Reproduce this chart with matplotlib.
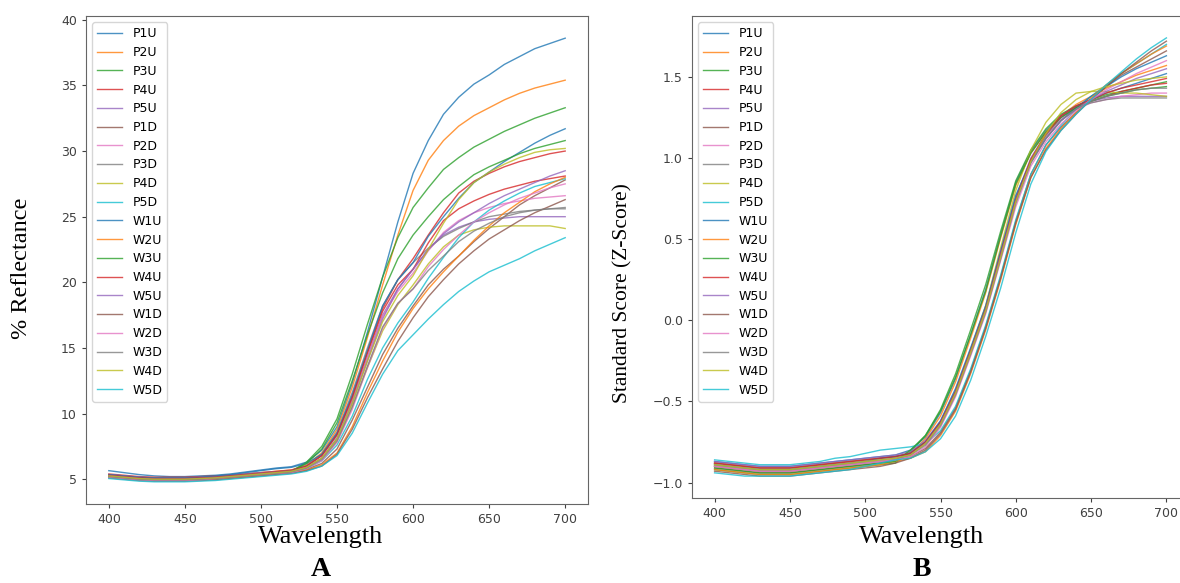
import numpy as np
import matplotlib.pyplot as plt

# wavelengths sampled every 10 nm
wavelength = list(range(400, 701, 10))

labels = ["P1U", "P2U", "P3U", "P4U", "P5U", "P1D", "P2D", "P3D", "P4D", "P5D",
          "W1U", "W2U", "W3U", "W4U", "W5U", "W1D", "W2D", "W3D", "W4D", "W5D"]

# panel A: % reflectance, 400..700 nm
P1U = [5.65, 5.5, 5.35, 5.25, 5.2, 5.2, 5.25, 5.3, 5.4, 5.55, 5.7, 5.85, 5.95, 6.3, 7.2, 9.0, 12.3, 16.2, 20.4, 24.6, 28.3, 30.8, 32.8, 34.1, 35.1, 35.8, 36.6, 37.2, 37.8, 38.2, 38.6]
P2U = [5.3, 5.2, 5.1, 5.05, 5.05, 5.05, 5.1, 5.2, 5.3, 5.4, 5.5, 5.6, 5.7, 6.1, 7.0, 8.8, 12.0, 15.8, 19.8, 23.6, 27.0, 29.3, 30.8, 31.9, 32.7, 33.3, 33.9, 34.4, 34.8, 35.1, 35.4]
P3U = [5.25, 5.15, 5.05, 5.0, 5.0, 5.0, 5.05, 5.1, 5.2, 5.3, 5.4, 5.5, 5.6, 6.3, 7.5, 9.6, 13.0, 16.8, 20.4, 23.4, 25.7, 27.2, 28.6, 29.5, 30.3, 30.9, 31.5, 32.0, 32.5, 32.9, 33.3]
P4U = [5.4, 5.3, 5.2, 5.15, 5.15, 5.15, 5.2, 5.25, 5.3, 5.4, 5.5, 5.6, 5.7, 6.0, 6.8, 8.4, 11.3, 14.7, 18.0, 20.2, 21.8, 23.6, 25.3, 26.8, 27.7, 28.3, 28.8, 29.2, 29.5, 29.8, 30.0]
P5U = [5.35, 5.25, 5.15, 5.1, 5.1, 5.1, 5.15, 5.2, 5.3, 5.4, 5.5, 5.55, 5.65, 6.0, 6.8, 8.3, 11.0, 14.3, 17.5, 19.5, 21.0, 22.5, 23.6, 24.2, 24.6, 24.8, 24.9, 25.0, 25.0, 25.0, 25.0]
P1D = [5.2, 5.1, 5.0, 4.95, 4.95, 4.95, 5.0, 5.05, 5.15, 5.25, 5.35, 5.45, 5.5, 5.75, 6.2, 7.3, 9.5, 12.0, 14.5, 16.5, 18.2, 19.8, 21.0, 22.0, 23.1, 24.1, 25.0, 25.9, 26.6, 27.2, 27.8]
P2D = [5.3, 5.2, 5.1, 5.05, 5.05, 5.05, 5.1, 5.15, 5.2, 5.3, 5.35, 5.45, 5.55, 5.85, 6.6, 8.1, 10.8, 14.2, 17.4, 19.3, 20.7, 22.4, 23.8, 24.7, 25.3, 25.7, 26.0, 26.2, 26.4, 26.5, 26.6]
P3D = [5.3, 5.2, 5.1, 5.05, 5.05, 5.05, 5.1, 5.15, 5.25, 5.35, 5.45, 5.55, 5.65, 6.0, 6.9, 8.6, 11.6, 15.0, 18.2, 20.2, 21.5, 22.6, 23.5, 24.1, 24.6, 25.0, 25.2, 25.4, 25.5, 25.6, 25.6]
P4D = [5.25, 5.15, 5.05, 5.0, 5.0, 5.0, 5.05, 5.1, 5.2, 5.3, 5.4, 5.5, 5.6, 5.9, 6.6, 8.0, 10.5, 13.5, 16.3, 18.3, 19.8, 21.4, 22.7, 23.6, 24.0, 24.2, 24.3, 24.3, 24.3, 24.3, 24.1]
P5D = [5.2, 5.1, 5.0, 4.95, 4.95, 4.95, 5.0, 5.05, 5.15, 5.25, 5.35, 5.45, 5.55, 5.8, 6.4, 7.6, 9.8, 12.6, 15.0, 16.9, 18.5, 20.3, 21.9, 23.4, 24.6, 25.5, 26.2, 26.8, 27.3, 27.6, 27.9]
W1U = [5.35, 5.25, 5.15, 5.1, 5.1, 5.1, 5.15, 5.25, 5.35, 5.5, 5.65, 5.8, 5.9, 6.2, 6.9, 8.5, 11.4, 14.8, 18.2, 20.2, 21.5, 23.5, 25.0, 26.4, 27.6, 28.4, 29.2, 29.9, 30.6, 31.2, 31.7]
W2U = [5.15, 5.05, 4.95, 4.9, 4.9, 4.9, 4.95, 5.0, 5.1, 5.2, 5.3, 5.4, 5.5, 5.7, 6.1, 7.0, 9.0, 11.6, 14.0, 16.2, 18.0, 19.5, 20.8, 22.0, 23.2, 24.3, 25.3, 26.1, 26.9, 27.5, 28.0]
W3U = [5.2, 5.1, 5.0, 4.95, 4.95, 4.95, 5.0, 5.1, 5.2, 5.3, 5.4, 5.5, 5.6, 6.2, 7.3, 9.3, 12.5, 16.0, 19.2, 21.8, 23.6, 25.0, 26.3, 27.3, 28.2, 28.8, 29.3, 29.8, 30.2, 30.5, 30.8]
W4U = [5.3, 5.2, 5.1, 5.05, 5.05, 5.05, 5.1, 5.15, 5.25, 5.35, 5.45, 5.55, 5.65, 6.0, 6.8, 8.4, 11.2, 14.6, 17.8, 19.8, 21.0, 23.0, 24.7, 25.6, 26.2, 26.7, 27.1, 27.4, 27.7, 27.9, 28.1]
W5U = [5.25, 5.15, 5.05, 5.0, 5.0, 5.0, 5.05, 5.1, 5.2, 5.3, 5.4, 5.5, 5.6, 5.9, 6.6, 8.1, 10.8, 14.0, 17.2, 19.5, 21.0, 22.5, 23.7, 24.6, 25.3, 26.0, 26.6, 27.1, 27.6, 28.1, 28.5]
W1D = [5.1, 5.0, 4.9, 4.85, 4.85, 4.85, 4.9, 4.95, 5.05, 5.15, 5.25, 5.35, 5.45, 5.65, 6.0, 6.9, 8.8, 11.2, 13.4, 15.5, 17.3, 18.9, 20.2, 21.4, 22.4, 23.3, 24.0, 24.7, 25.3, 25.8, 26.3]
W2D = [5.15, 5.05, 4.95, 4.9, 4.9, 4.9, 4.95, 5.05, 5.15, 5.25, 5.35, 5.45, 5.5, 5.8, 6.4, 7.8, 10.3, 13.5, 16.5, 18.4, 19.5, 21.2, 22.5, 23.6, 24.6, 25.3, 25.9, 26.4, 26.8, 27.2, 27.5]
W3D = [5.2, 5.1, 5.0, 4.95, 4.95, 4.95, 5.0, 5.05, 5.15, 5.25, 5.35, 5.45, 5.55, 5.85, 6.5, 7.9, 10.5, 13.6, 16.6, 18.4, 19.5, 20.9, 22.0, 23.1, 23.9, 24.5, 25.0, 25.3, 25.5, 25.6, 25.7]
W4D = [5.25, 5.15, 5.05, 5.0, 5.0, 5.0, 5.05, 5.1, 5.2, 5.3, 5.4, 5.5, 5.6, 5.9, 6.6, 8.1, 10.8, 14.0, 17.0, 19.0, 20.5, 22.5, 24.5, 26.3, 27.6, 28.4, 29.0, 29.5, 29.9, 30.1, 30.2]
W5D = [5.05, 4.95, 4.85, 4.8, 4.8, 4.8, 4.85, 4.9, 5.0, 5.1, 5.2, 5.3, 5.4, 5.6, 6.0, 6.8, 8.5, 10.8, 13.0, 14.8, 16.0, 17.2, 18.3, 19.3, 20.1, 20.8, 21.3, 21.8, 22.4, 22.9, 23.4]

reflectance = [P1U, P2U, P3U, P4U, P5U, P1D, P2D, P3D, P4D, P5D,
               W1U, W2U, W3U, W4U, W5U, W1D, W2D, W3D, W4D, W5D]

# panel B: standard score (z-score), 400..700 nm
zP1U = [-0.87, -0.88, -0.89, -0.90, -0.90, -0.90, -0.89, -0.88, -0.87, -0.86, -0.85, -0.84, -0.83, -0.80, -0.72, -0.57, -0.36, -0.09, 0.19, 0.53, 0.85, 1.04, 1.17, 1.26, 1.32, 1.36, 1.40, 1.43, 1.46, 1.49, 1.52]
zP2U = [-0.90, -0.91, -0.92, -0.93, -0.93, -0.93, -0.92, -0.91, -0.90, -0.89, -0.88, -0.87, -0.86, -0.82, -0.73, -0.59, -0.38, -0.11, 0.17, 0.51, 0.83, 1.03, 1.16, 1.26, 1.33, 1.38, 1.43, 1.47, 1.51, 1.54, 1.57]
zP3U = [-0.92, -0.93, -0.94, -0.95, -0.95, -0.95, -0.94, -0.93, -0.92, -0.91, -0.90, -0.89, -0.88, -0.81, -0.71, -0.55, -0.33, -0.06, 0.22, 0.55, 0.86, 1.05, 1.18, 1.27, 1.32, 1.36, 1.39, 1.41, 1.43, 1.45, 1.47]
zP4U = [-0.88, -0.89, -0.90, -0.91, -0.91, -0.91, -0.90, -0.89, -0.88, -0.87, -0.86, -0.85, -0.84, -0.82, -0.75, -0.63, -0.44, -0.19, 0.07, 0.41, 0.75, 0.99, 1.14, 1.25, 1.31, 1.35, 1.38, 1.41, 1.43, 1.45, 1.46]
zP5U = [-0.87, -0.88, -0.89, -0.90, -0.90, -0.90, -0.89, -0.88, -0.87, -0.86, -0.85, -0.84, -0.83, -0.81, -0.74, -0.62, -0.43, -0.18, 0.08, 0.42, 0.76, 1.00, 1.15, 1.26, 1.32, 1.35, 1.37, 1.38, 1.38, 1.38, 1.38]
zP1D = [-0.91, -0.92, -0.93, -0.94, -0.94, -0.94, -0.93, -0.92, -0.91, -0.90, -0.89, -0.88, -0.86, -0.84, -0.79, -0.69, -0.54, -0.31, -0.04, 0.27, 0.61, 0.90, 1.08, 1.19, 1.28, 1.36, 1.44, 1.51, 1.56, 1.61, 1.66]
zP2D = [-0.89, -0.90, -0.91, -0.92, -0.92, -0.92, -0.91, -0.90, -0.89, -0.88, -0.87, -0.86, -0.85, -0.83, -0.76, -0.64, -0.45, -0.20, 0.06, 0.40, 0.74, 0.98, 1.13, 1.24, 1.30, 1.34, 1.36, 1.38, 1.39, 1.40, 1.40]
zP3D = [-0.88, -0.89, -0.90, -0.91, -0.91, -0.91, -0.90, -0.89, -0.88, -0.87, -0.86, -0.85, -0.84, -0.82, -0.75, -0.63, -0.44, -0.19, 0.07, 0.41, 0.75, 0.99, 1.14, 1.25, 1.31, 1.34, 1.36, 1.37, 1.37, 1.37, 1.37]
zP4D = [-0.90, -0.91, -0.92, -0.93, -0.93, -0.93, -0.92, -0.91, -0.90, -0.89, -0.88, -0.87, -0.86, -0.83, -0.76, -0.64, -0.44, -0.18, 0.09, 0.45, 0.80, 1.05, 1.22, 1.33, 1.40, 1.41, 1.41, 1.40, 1.40, 1.39, 1.38]
zP5D = [-0.86, -0.87, -0.88, -0.89, -0.89, -0.89, -0.88, -0.87, -0.85, -0.84, -0.82, -0.80, -0.79, -0.78, -0.76, -0.68, -0.53, -0.30, -0.03, 0.28, 0.62, 0.90, 1.08, 1.20, 1.30, 1.38, 1.45, 1.52, 1.58, 1.64, 1.70]
zW1U = [-0.89, -0.90, -0.91, -0.92, -0.92, -0.92, -0.91, -0.90, -0.89, -0.88, -0.87, -0.85, -0.84, -0.82, -0.75, -0.62, -0.42, -0.17, 0.09, 0.43, 0.77, 0.98, 1.12, 1.23, 1.31, 1.38, 1.44, 1.50, 1.55, 1.59, 1.63]
zW2U = [-0.92, -0.93, -0.94, -0.95, -0.95, -0.95, -0.94, -0.93, -0.92, -0.91, -0.90, -0.89, -0.87, -0.85, -0.81, -0.71, -0.56, -0.33, -0.06, 0.25, 0.59, 0.88, 1.06, 1.18, 1.28, 1.37, 1.45, 1.52, 1.58, 1.64, 1.69]
zW3U = [-0.91, -0.92, -0.93, -0.94, -0.94, -0.94, -0.93, -0.92, -0.91, -0.90, -0.89, -0.88, -0.87, -0.80, -0.71, -0.56, -0.35, -0.09, 0.18, 0.52, 0.84, 1.03, 1.16, 1.25, 1.31, 1.35, 1.38, 1.40, 1.42, 1.43, 1.44]
zW4U = [-0.88, -0.89, -0.90, -0.91, -0.91, -0.91, -0.90, -0.89, -0.88, -0.87, -0.86, -0.85, -0.84, -0.82, -0.75, -0.63, -0.44, -0.19, 0.07, 0.41, 0.74, 0.99, 1.15, 1.26, 1.32, 1.36, 1.40, 1.43, 1.45, 1.47, 1.49]
zW5U = [-0.90, -0.91, -0.92, -0.93, -0.93, -0.93, -0.92, -0.91, -0.90, -0.89, -0.88, -0.87, -0.86, -0.83, -0.76, -0.64, -0.45, -0.20, 0.06, 0.40, 0.73, 0.97, 1.12, 1.23, 1.30, 1.36, 1.41, 1.45, 1.49, 1.52, 1.55]
zW1D = [-0.93, -0.94, -0.95, -0.96, -0.96, -0.96, -0.95, -0.94, -0.93, -0.92, -0.91, -0.90, -0.88, -0.85, -0.80, -0.70, -0.55, -0.32, -0.05, 0.26, 0.60, 0.88, 1.05, 1.17, 1.27, 1.36, 1.44, 1.52, 1.59, 1.66, 1.72]
zW2D = [-0.90, -0.91, -0.92, -0.93, -0.93, -0.93, -0.92, -0.91, -0.90, -0.89, -0.88, -0.87, -0.86, -0.84, -0.78, -0.66, -0.47, -0.22, 0.04, 0.37, 0.70, 0.95, 1.10, 1.21, 1.29, 1.36, 1.42, 1.47, 1.52, 1.56, 1.60]
zW3D = [-0.89, -0.90, -0.91, -0.92, -0.92, -0.92, -0.91, -0.90, -0.89, -0.88, -0.87, -0.86, -0.85, -0.83, -0.77, -0.65, -0.46, -0.21, 0.05, 0.38, 0.72, 0.97, 1.12, 1.23, 1.30, 1.35, 1.38, 1.40, 1.42, 1.43, 1.43]
zW4D = [-0.89, -0.90, -0.91, -0.92, -0.92, -0.92, -0.91, -0.90, -0.89, -0.88, -0.87, -0.86, -0.85, -0.83, -0.76, -0.64, -0.45, -0.20, 0.06, 0.39, 0.73, 0.98, 1.15, 1.28, 1.36, 1.41, 1.44, 1.46, 1.48, 1.49, 1.50]
zW5D = [-0.94, -0.95, -0.96, -0.96, -0.96, -0.96, -0.95, -0.94, -0.93, -0.92, -0.90, -0.88, -0.86, -0.85, -0.81, -0.73, -0.59, -0.37, -0.10, 0.20, 0.54, 0.84, 1.04, 1.17, 1.27, 1.36, 1.45, 1.53, 1.61, 1.68, 1.74]

zscore = [zP1U, zP2U, zP3U, zP4U, zP5U, zP1D, zP2D, zP3D, zP4D, zP5D,
          zW1U, zW2U, zW3U, zW4U, zW5U, zW1D, zW2D, zW3D, zW4D, zW5D]

W, H = 1180, 583
fig = plt.figure(figsize=(W / 100, H / 100), dpi=100)

ax1 = fig.add_axes([86 / W, 1 - 504 / H, (588 - 86) / W, (504 - 16) / H])
# right panel runs just past the image edge, as in the cropped original
ax2 = fig.add_axes([692 / W, 1 - 498 / H, (1189 - 692) / W, (498 - 16) / H])

for ax, data in [(ax1, reflectance), (ax2, zscore)]:
    for lab, ys in zip(labels, data):
        ax.plot(wavelength, ys, lw=1.0, alpha=0.8, label=lab)
    ax.legend(loc="upper left", fontsize=9, labelspacing=0.46, handlelength=2.0)
    ax.tick_params(labelsize=9, colors="0.25", length=3)
    ax.set_xticks([400, 450, 500, 550, 600, 650, 700])
    ax.set_xlim(385, 715)
    for sp in ax.spines.values():
        sp.set_color("0.4")

ax1.set_yticks([5, 10, 15, 20, 25, 30, 35, 40])
ax2.set_yticks([-1.0, -0.5, 0.0, 0.5, 1.0, 1.5])

serif = ["Liberation Serif", "DejaVu Serif"]
fig.text(321 / W, 1 - 537 / H, "Wavelength", family=serif, fontsize=19, ha="center", va="center")
fig.text(922 / W, 1 - 537 / H, "Wavelength", family=serif, fontsize=19, ha="center", va="center")
fig.text(321 / W, 1 - 570 / H, "A", family=serif, fontsize=20, weight="bold", ha="center", va="center")
fig.text(922 / W, 1 - 570 / H, "B", family=serif, fontsize=20, weight="bold", ha="center", va="center")
fig.text(22 / W, 1 - 268 / H, "% Reflectance", family=serif, fontsize=17.5, rotation=90, ha="center", va="center")
fig.text(623 / W, 1 - 293 / H, "Standard Score (Z-Score)", family=serif, fontsize=15.5, rotation=90, ha="center", va="center")

fig.savefig("out.png", dpi=100)
